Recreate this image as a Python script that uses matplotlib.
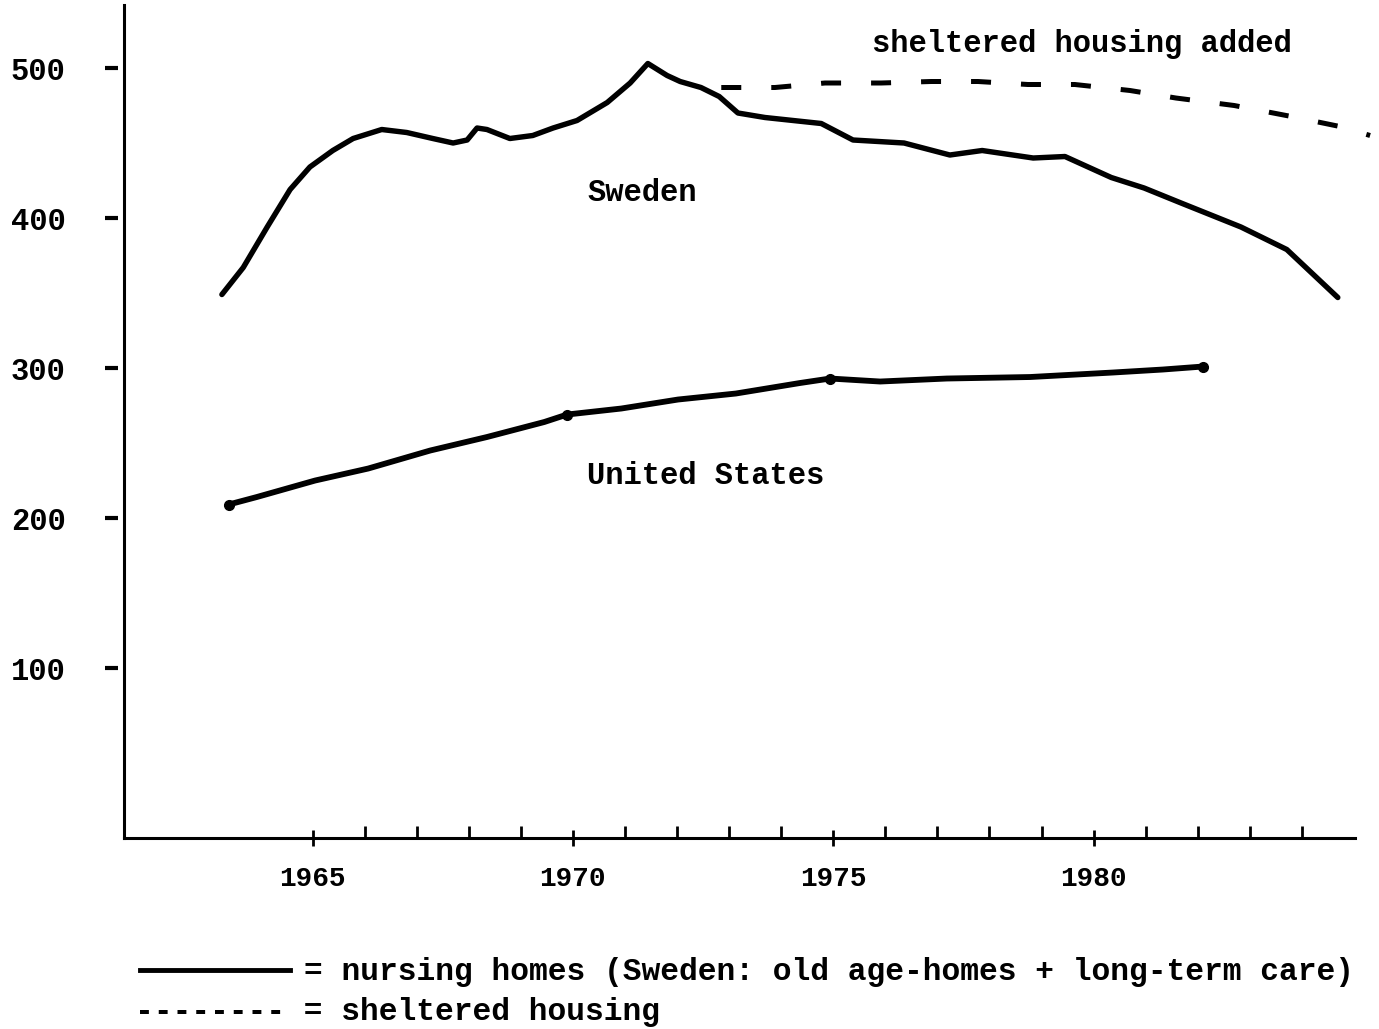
import matplotlib.pyplot as plt
from matplotlib.lines import Line2D
from matplotlib import transforms

# Sweden: nursing homes (old age homes + long-term care)
sweden_yr = [1963.26, 1963.67, 1964.13, 1964.57, 1964.95, 1965.39, 1965.78, 1966.33,
             1966.81, 1967.31, 1967.70, 1967.97, 1968.16, 1968.35, 1968.79, 1969.23,
             1969.62, 1970.08, 1970.66, 1971.10, 1971.44, 1971.81, 1972.06, 1972.46,
             1972.81, 1973.17, 1973.69, 1974.77, 1975.38, 1976.36, 1977.24, 1977.86,
             1978.84, 1979.45, 1980.34, 1980.97, 1981.68, 1982.83, 1983.71, 1984.69]
sweden_val = [349, 367, 394, 419, 434, 445, 453, 459,
              457, 453, 450, 452, 460, 459, 453, 455,
              460, 465, 477, 490, 503, 495, 491, 487,
              481, 470, 467, 463, 452, 450, 442, 445,
              440, 441, 427, 420, 410, 394, 379, 347]

# Sweden with sheltered housing added
shelter_yr = [1972.85, 1973.88, 1974.84, 1975.92, 1976.88, 1977.78, 1978.74,
              1979.64, 1980.70, 1981.58, 1982.70, 1983.75, 1984.73, 1985.31]
shelter_val = [487, 487, 490, 490, 491, 491, 489,
               489, 485, 480, 475, 468, 461, 455]

# United States nursing homes
us_yr = [1963.39, 1963.93, 1965.05, 1966.07, 1967.26, 1968.35, 1969.45, 1969.89,
         1970.93, 1972.02, 1973.13, 1974.36, 1974.94, 1975.90, 1977.18, 1978.78,
         1980.37, 1981.33, 1982.10]
us_val = [209, 214, 225, 233, 245, 254, 264, 269,
          273, 279, 283, 290, 293, 291, 293, 294,
          297, 299, 301]
us_marks = [0, 7, 12, 18]

year_labels = [1965, 1970, 1975, 1980]
year_minor = list(range(1965, 1985))
y_ticks = [100, 200, 300, 400, 500]

font = 'Liberation Mono'

fig = plt.figure(figsize=(13.79, 10.29), dpi=100)
ax = fig.add_axes([124 / 1379, 1 - 838 / 1029, 1231 / 1379, 833 / 1029])
ax.set_xlim(1961.38, 1985.02)
ax.set_ylim(-13.3, 542)

ax.plot(sweden_yr, sweden_val, color='black', lw=3.9, solid_capstyle='round',
        solid_joinstyle='round')
ax.plot(shelter_yr, shelter_val, color='black', lw=3.6, linestyle=(0, (4.0, 6.0)),
        clip_on=False)
ax.plot(us_yr, us_val, color='black', lw=4.2, solid_capstyle='round',
        solid_joinstyle='round')
ax.plot([us_yr[i] for i in us_marks], [us_val[i] for i in us_marks], 'o',
        color='black', ms=7)

for s in ['top', 'right']:
    ax.spines[s].set_visible(False)
for s in ['left', 'bottom']:
    ax.spines[s].set_linewidth(2.2)

# y ticks: short dashes left of the axis, not touching it
ax.set_yticks(y_ticks)
ax.set_yticklabels([str(v) for v in y_ticks], fontfamily=font, fontweight='bold',
                   fontsize=22)
ax.tick_params(axis='y', length=0, pad=42)
trans = transforms.blended_transform_factory(ax.transAxes, ax.transData)
for v in y_ticks:
    ax.plot([-0.0154, -0.0049], [v, v], color='black', lw=3, transform=trans,
            clip_on=False, solid_capstyle='butt')

ax.set_xticks(year_labels)
ax.set_xticks(year_minor, minor=True)
ax.set_xticklabels([str(v) for v in year_labels], fontfamily=font, fontweight='bold',
                   fontsize=20)
ax.tick_params(axis='x', which='major', direction='inout', length=12, width=2, pad=14)
ax.tick_params(axis='x', which='minor', direction='in', length=9, width=2)

txt = dict(fontfamily=font, fontweight='bold', fontsize=22, ha='center', va='center')
ax.text(1971.33, 417, 'Sweden', **txt)
ax.text(1972.54, 228, 'United States', **txt)
ax.text(1979.78, 516, 'sheltered housing added', **txt)

# legend typed below the chart
fig.add_artist(Line2D([140 / 1379, 290 / 1379], [1 - 970 / 1029, 1 - 970 / 1029],
                      color='black', lw=3.5))
leg = dict(fontfamily=font, fontweight='bold', fontsize=22.5, ha='left', va='baseline')
fig.text(304 / 1379, 1 - 980 / 1029,
         '= nursing homes (Sweden: old age-homes + long-term care)', **leg)
fig.text(135 / 1379, 1 - 1020 / 1029, '-------- = sheltered housing', **leg)

fig.savefig('out.png', dpi=100)
